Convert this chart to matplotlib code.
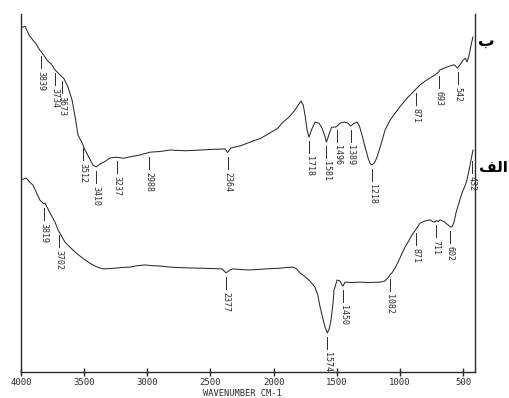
import matplotlib
matplotlib.use('Agg')
import matplotlib.pyplot as plt
import numpy as np

# Widmo (ب) - wyższa krzywa
wn_b = [4000, 3968, 3935, 3905, 3878, 3850, 3822, 3794, 3760, 3731, 3700, 3673, 3659, 3628,
        3596, 3570, 3549, 3520, 3493, 3460, 3430, 3405, 3374, 3330, 3295, 3240, 3190, 3137,
        3060, 2978, 2900, 2820, 2700, 2582, 2480, 2384, 2364, 2337, 2260, 2187, 2100, 2028,
        1970, 1925, 1875, 1830, 1800, 1783, 1765, 1751, 1735, 1719, 1700, 1672, 1640, 1616,
        1595, 1581, 1560, 1540, 1510, 1496, 1474, 1440, 1410, 1389, 1365, 1339, 1320, 1300,
        1275, 1252, 1235, 1220, 1200, 1181, 1150, 1117, 1080, 1038, 990, 935, 890, 840, 790,
        722, 693, 682, 640, 603, 570, 542, 520, 500, 480, 468, 455, 444, 432, 421]
t_b = [96.1, 96.6, 94.0, 92.7, 91.5, 89.9, 88.6, 87.1, 86.0, 84.4, 83.3, 82.4, 81.9, 79.6,
       76.0, 71.0, 66.2, 64.3, 62.0, 59.8, 57.8, 57.3, 58.1, 58.9, 59.8, 60.0, 59.7, 60.1,
       60.6, 61.4, 61.6, 62.0, 61.8, 62.0, 62.2, 62.3, 61.3, 62.6, 63.2, 64.2, 65.3, 66.8,
       68.0, 69.8, 71.3, 73.2, 74.8, 75.7, 74.5, 71.8, 67.5, 65.6, 67.6, 69.8, 69.5, 68.1,
       66.0, 64.2, 66.5, 68.4, 68.4, 68.7, 69.5, 69.8, 69.5, 68.7, 69.4, 69.8, 68.7, 66.2,
       62.8, 59.8, 58.2, 57.8, 58.5, 60.0, 63.5, 67.6, 70.2, 72.3, 74.5, 76.8, 78.4, 80.2,
       81.5, 83.0, 83.8, 84.4, 85.0, 85.5, 85.8, 84.9, 86.0, 87.1, 87.6, 86.6, 88.0, 89.9,
       92.0, 93.6]

# Widmo (الف) - niższa krzywa
wn_a = [4000, 3960, 3930, 3905, 3880, 3850, 3819, 3810, 3790, 3770, 3731, 3707, 3680, 3652,
        3610, 3572, 3530, 3493, 3450, 3414, 3380, 3351, 3300, 3256, 3200, 3137, 3080, 3018,
        2960, 2899, 2820, 2700, 2582, 2480, 2408, 2377, 2340, 2321, 2250, 2187, 2060, 1949,
        1900, 1846, 1820, 1791, 1750, 1712, 1672, 1650, 1632, 1610, 1593, 1574, 1560, 1545,
        1530, 1521, 1497, 1474, 1458, 1450, 1434, 1380, 1315, 1250, 1157, 1120, 1094, 1082,
        1060, 1038, 1000, 959, 930, 904, 871, 840, 800, 761, 740, 722, 711, 695, 682, 650,
        619, 602, 587, 570, 556, 530, 508, 490, 476, 460, 444, 432, 421]
t_a = [53.6, 54.2, 53.0, 52.2, 50.3, 48.0, 47.0, 47.2, 45.8, 44.4, 41.9, 39.7, 38.0, 36.3,
       34.8, 33.5, 32.3, 31.3, 30.3, 29.6, 29.1, 28.8, 28.9, 29.0, 29.2, 29.3, 29.7, 29.9,
       29.7, 29.6, 29.3, 29.1, 29.0, 28.9, 28.8, 27.7, 28.6, 28.8, 28.6, 28.5, 28.8, 29.0,
       29.2, 29.3, 28.9, 27.7, 26.6, 25.4, 23.7, 21.5, 18.2, 15.0, 12.6, 10.9, 12.0, 14.5,
       19.0, 22.9, 25.7, 25.4, 24.3, 24.0, 25.1, 25.0, 25.1, 25.0, 25.1, 25.4, 26.3, 27.0,
       27.8, 29.0, 31.8, 34.9, 36.6, 38.3, 39.9, 41.6, 42.2, 42.5, 42.0, 41.9, 42.3, 42.0,
       42.5, 42.0, 41.1, 40.6, 40.5, 42.0, 44.4, 47.5, 50.0, 51.5, 52.8, 55.0, 57.8, 60.0,
       62.0]

peaks_b = [3839, 3734, 3673, 3512, 3410, 3237, 2988, 2364, 1718, 1581, 1496, 1389, 1218,
           871, 693, 542]
peaks_a = [3819, 3702, 2377, 1574, 1450, 1082, 871, 711, 602, 432]

xticks = [4000, 3500, 3000, 2500, 2000, 1500, 1000, 500]

mono = 'DejaVu Sans Mono'
ink = '#2b2b2b'

fig = plt.figure(figsize=(5.1, 3.98), dpi=100)
ax = fig.add_axes([21 / 510, 26 / 398, 454 / 510, 358 / 398])

ax.plot(wn_b, t_b, color=ink, linewidth=0.75)
ax.plot(wn_a, t_a, color=ink, linewidth=0.75)

ax.set_xlim(4000, 405)
ax.set_ylim(0, 100)

px = 100 / 358  # jednostki osi Y na piksel


def oznacz(wn, t, peaks):
    x = np.array(wn[::-1], dtype=float)
    y = np.array(t[::-1], dtype=float)
    for p in peaks:
        top = np.interp(p, x, y) - 4 * px
        bot = top - 12 * px
        ax.plot([p, p], [top, bot], color=ink, linewidth=0.7)
        ax.text(p, bot - 3 * px, str(p), rotation=270, ha='center', va='top',
                fontsize=6, family=mono, color=ink)


oznacz(wn_b, t_b, peaks_b)
oznacz(wn_a, t_a, peaks_a)

ax.set_xticks(xticks)
ax.set_xticklabels([str(v) for v in xticks], family=mono, fontsize=6.5, color=ink)
ax.tick_params(axis='x', direction='inout', length=6, width=1, color=ink, pad=1)
ax.set_yticks([])
ax.spines['top'].set_visible(False)
for s in ['left', 'right', 'bottom']:
    ax.spines[s].set_color(ink)
    ax.spines[s].set_linewidth(1.0)

fig.text(242 / 510, 1 - 389 / 398, 'WAVENUMBER CM-1', family=mono, fontsize=6.2,
         color=ink, ha='center', va='top')

# etykiety widm (arabskie formy prezentacyjne w kolejności wizualnej)
fig.text(478 / 510, 1 - 41 / 398, '\ufe8f', fontsize=12, fontweight='bold',
         family='DejaVu Sans', ha='left', va='center')
fig.text(479 / 510, 1 - 167 / 398, '\ufed2\ufedf\ufe8d', fontsize=11, fontweight='bold',
         family='DejaVu Sans', ha='left', va='center')

fig.savefig('out.png', dpi=100)
